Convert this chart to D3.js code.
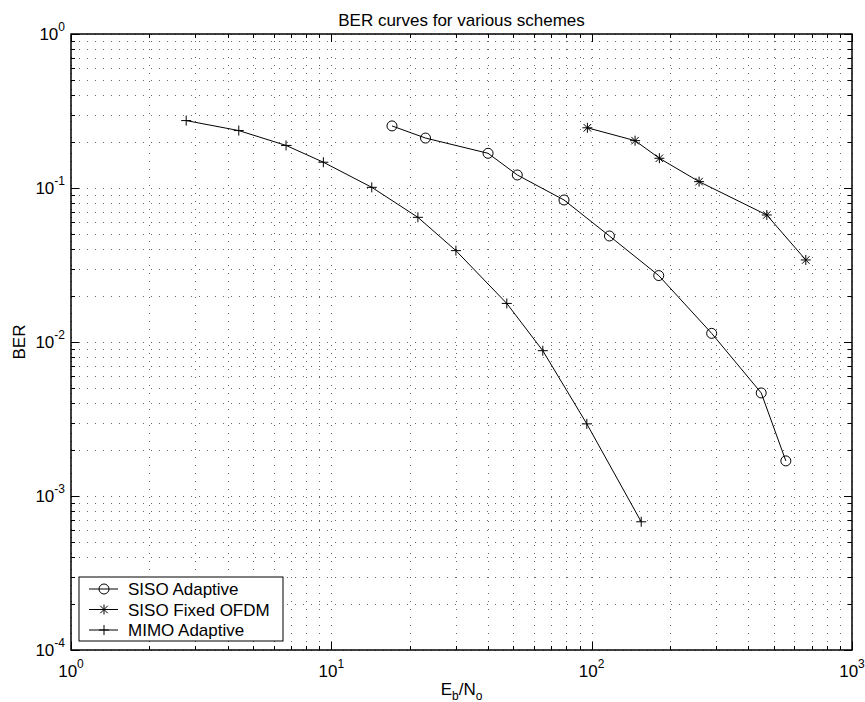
<!DOCTYPE html>
<html>
<head>
<meta charset="utf-8">
<script src="https://cdn.jsdelivr.net/npm/d3@7"></script>
<style>
  body { margin: 0; background: #fff; }
  svg text { font-family: "Liberation Sans", Arial, Helvetica, sans-serif; fill: #000; }
</style>
</head>
<body>
<svg id="chart" width="865" height="702"></svg>
<script>
// data
var sisoAdaptiveX = [17.1, 23.0, 40.0, 51.8, 78.3, 117, 181, 289, 448, 557];
var sisoAdaptiveY = [0.253, 0.211, 0.168, 0.1215, 0.0836, 0.0488, 0.0270, 0.01138, 0.00467, 0.00169];
var sisoFixedX = [96.3, 146.8, 182, 258.6, 470.7, 664.5];
var sisoFixedY = [0.246, 0.203, 0.156, 0.110, 0.0668, 0.0341];
var mimoX = [2.77, 4.41, 6.70, 9.32, 14.3, 21.5, 30.1, 47.2, 64.9, 95.8, 155];
var mimoY = [0.274, 0.236, 0.189, 0.147, 0.101, 0.0645, 0.0392, 0.0178, 0.00878, 0.00294, 0.00068];

var seriesNames = ["SISO Adaptive", "SISO Fixed OFDM", "MIMO Adaptive"];
var xMajor = [0, 1, 2, 3];      // exponents
var yMajor = [-4, -3, -2, -1, 0];

var svg = d3.select('#chart');
var margin = {top: 34, left: 71, bottom: 52, right: 13};
var width = 865 - margin.left - margin.right;
var height = 702 - margin.top - margin.bottom;

var x = d3.scaleLog().domain([1, 1000]).range([0, width]);
var y = d3.scaleLog().domain([1e-4, 1]).range([height, 0]);

// all log ticks (1..9 per decade)
function logTicks(lo, hi) {
    var t = [];
    for (var e = lo; e < hi; e++) {
        for (var m = 1; m < 10; m++) t.push(m * Math.pow(10, e));
    }
    t.push(Math.pow(10, hi));
    return t;
}
var xAll = logTicks(0, 3);
var yAll = logTicks(-4, 0);
var xMaj = xMajor.map(function(e) { return Math.pow(10, e); });
var yMaj = yMajor.map(function(e) { return Math.pow(10, e); });
var xMin = xAll.filter(function(v) { return xMaj.indexOf(v) < 0; });
var yMin = yAll.filter(function(v) { return yMaj.indexOf(v) < 0; });

var g = svg.append("g").attr("transform", "translate(" + [margin.left, margin.top] + ")");

// grid
g.append("g").attr("class", "grid")
    .attr("transform", "translate(0," + height + ")")
    .call(d3.axisBottom(x).tickValues(xAll).tickSize(-height).tickFormat(""));
g.append("g").attr("class", "grid")
    .call(d3.axisLeft(y).tickValues(yAll).tickSize(-width).tickFormat(""));
g.selectAll(".grid .domain").remove();
g.selectAll(".grid line")
    .attr("stroke", "#666")
    .attr("stroke-width", 1)
    .attr("stroke-dasharray", "1,7")
    .attr("shape-rendering", "crispEdges");

// inward ticks on all four sides
function tickAxis(axisFn, scale, vals, len, tr) {
    var a = g.append("g").attr("class", "ticks")
        .call(axisFn(scale).tickValues(vals).tickSize(-len).tickFormat(""));
    if (tr) a.attr("transform", tr);
    a.select(".domain").remove();
    a.selectAll("line").attr("stroke", "#000").attr("shape-rendering", "crispEdges");
}
tickAxis(d3.axisBottom, x, xMaj, 8, "translate(0," + height + ")");
tickAxis(d3.axisBottom, x, xMin, 4, "translate(0," + height + ")");
tickAxis(d3.axisTop, x, xMaj, 8, null);
tickAxis(d3.axisTop, x, xMin, 4, null);
tickAxis(d3.axisLeft, y, yMaj, 8, null);
tickAxis(d3.axisLeft, y, yMin, 4, null);
tickAxis(d3.axisRight, y, yMaj, 8, "translate(" + width + ",0)");
tickAxis(d3.axisRight, y, yMin, 4, "translate(" + width + ",0)");

// frame
g.append("rect")
    .attr("width", width).attr("height", height)
    .attr("fill", "none").attr("stroke", "#000").attr("stroke-width", 1.5);

// tick labels 10^k
xMajor.forEach(function(e) {
    var t = g.append("text")
        .attr("x", x(Math.pow(10, e)))
        .attr("y", height + 27)
        .attr("text-anchor", "middle")
        .style("font-size", "17px");
    t.append("tspan").text("10");
    t.append("tspan").attr("dy", -9).style("font-size", "12px").text(e);
});
yMajor.forEach(function(e) {
    var t = g.append("text")
        .attr("x", -6)
        .attr("y", y(Math.pow(10, e)) + 6)
        .attr("text-anchor", "end")
        .style("font-size", "17px");
    t.append("tspan").text("10");
    t.append("tspan").attr("dy", -9).style("font-size", "12px").text(e < 0 ? "-" + (-e) : e);
});

// title and axis labels
svg.append("text")
    .attr("x", margin.left + width / 2)
    .attr("y", 26)
    .attr("text-anchor", "middle")
    .style("font-size", "17px")
    .text("BER curves for various schemes");

var xl = svg.append("text")
    .attr("x", margin.left + width / 2)
    .attr("y", 695)
    .attr("text-anchor", "middle")
    .style("font-size", "17px");
xl.append("tspan").text("E");
xl.append("tspan").attr("dy", 5).style("font-size", "12px").text("b");
xl.append("tspan").attr("dy", -5).text("/N");
xl.append("tspan").attr("dy", 5).style("font-size", "12px").text("o");

svg.append("text")
    .attr("transform", "translate(25," + (margin.top + height / 2) + ") rotate(-90)")
    .attr("text-anchor", "middle")
    .style("font-size", "17px")
    .text("BER");

// curves
var line = d3.line().x(function(d) { return x(d[0]); }).y(function(d) { return y(d[1]); });
function zipXY(xs, ys) { return xs.map(function(v, i) { return [v, ys[i]]; }); }
var series = [zipXY(sisoAdaptiveX, sisoAdaptiveY), zipXY(sisoFixedX, sisoFixedY), zipXY(mimoX, mimoY)];
var markers = ["circle", "star", "plus"];

function drawMarker(sel, type, cx, cy) {
    var s = 5;
    if (type === "circle") {
        sel.append("circle").attr("cx", cx).attr("cy", cy).attr("r", s)
            .attr("fill", "none").attr("stroke", "#000");
    } else {
        var p = "M" + (cx - s) + "," + cy + "H" + (cx + s) + "M" + cx + "," + (cy - s) + "V" + (cy + s);
        if (type === "star") {
            var k = s * 0.75;
            p += "M" + (cx - k) + "," + (cy - k) + "L" + (cx + k) + "," + (cy + k) +
                 "M" + (cx - k) + "," + (cy + k) + "L" + (cx + k) + "," + (cy - k);
        }
        sel.append("path").attr("d", p).attr("fill", "none").attr("stroke", "#000");
    }
}

series.forEach(function(data, i) {
    g.append("path").datum(data)
        .attr("d", line)
        .attr("fill", "none")
        .attr("stroke", "#000")
        .attr("stroke-width", 1);
    var mg = g.append("g");
    data.forEach(function(d) { drawMarker(mg, markers[i], x(d[0]), y(d[1])); });
});

// legend
var leg = svg.append("g").attr("transform", "translate(79,577)");
leg.append("rect").attr("width", 204).attr("height", 64)
    .attr("fill", "#fff").attr("stroke", "#000");
seriesNames.forEach(function(name, i) {
    var cy = 12 + i * 20.5;
    leg.append("line").attr("x1", 10).attr("x2", 39).attr("y1", cy).attr("y2", cy)
        .attr("stroke", "#000");
    drawMarker(leg, markers[i], 25, cy);
    leg.append("text").attr("x", 49).attr("y", cy + 6)
        .style("font-size", "17px").text(name);
});
</script>
</body>
</html>
